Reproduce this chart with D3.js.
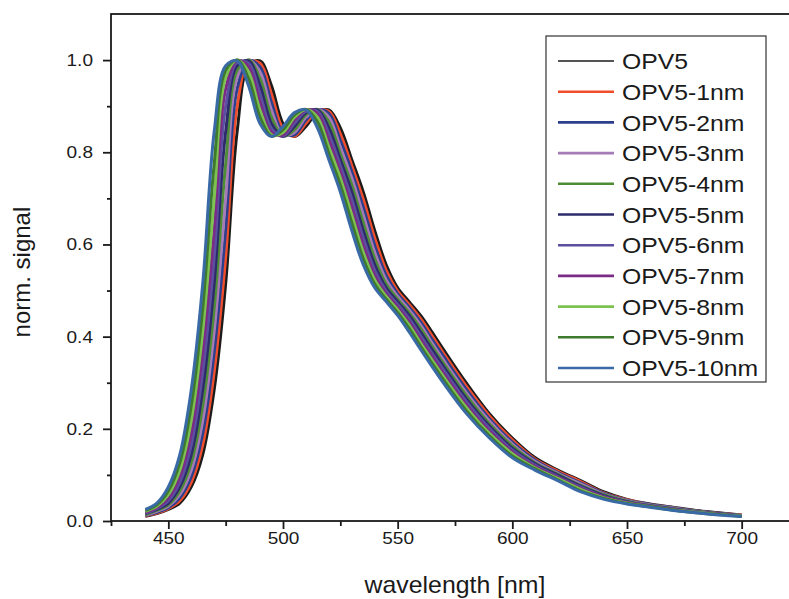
<!DOCTYPE html>
<html>

<head>
  <meta charset="utf-8" />
  <title>OPV5 spectra</title>
  <script src="https://d3js.org/d3.v7.min.js"></script>
  <style>
    body { margin: 0; background: #fff; }
    text { font-family: "Liberation Sans", Arial, sans-serif; fill: #1a1a1a; }
  </style>
</head>

<body>
  <script>
    // wavelength grid [nm] shared by all spectra
    const wavelengths = [440, 445, 450, 455, 460, 465, 470, 475, 480, 485,
      490, 495, 500, 505, 510, 515, 520, 525, 530, 535,
      540, 545, 550, 555, 560, 565, 570,
      580, 590, 600, 610, 620, 630, 640, 650, 660, 670, 680, 690, 700];

    // normalised signal
    const opv5 = [0.010, 0.016, 0.025, 0.039, 0.074, 0.144, 0.285, 0.515, 0.845, 0.988,
      0.998, 0.944, 0.862, 0.834, 0.856, 0.886, 0.892, 0.853, 0.784, 0.714,
      0.630, 0.556, 0.506, 0.476, 0.446, 0.410, 0.372,
      0.299, 0.233, 0.180, 0.137, 0.110, 0.087, 0.063, 0.047, 0.037, 0.030, 0.023, 0.018, 0.013];
    const opv5_1nm = [0.011, 0.017, 0.027, 0.044, 0.084, 0.165, 0.324, 0.572, 0.900, 0.995,
      0.993, 0.926, 0.851, 0.835, 0.863, 0.889, 0.889, 0.840, 0.771, 0.698,
      0.614, 0.544, 0.499, 0.470, 0.439, 0.402, 0.364,
      0.292, 0.228, 0.176, 0.134, 0.108, 0.085, 0.061, 0.046, 0.036, 0.029, 0.022, 0.017, 0.013];
    const opv5_2nm = [0.012, 0.019, 0.029, 0.050, 0.096, 0.190, 0.366, 0.632, 0.938, 0.999,
      0.985, 0.908, 0.843, 0.838, 0.870, 0.892, 0.884, 0.826, 0.758, 0.681,
      0.598, 0.533, 0.493, 0.464, 0.432, 0.394, 0.357,
      0.285, 0.222, 0.171, 0.132, 0.105, 0.082, 0.060, 0.045, 0.036, 0.029, 0.022, 0.017, 0.012];
    const opv5_3nm = [0.013, 0.021, 0.032, 0.057, 0.110, 0.218, 0.412, 0.700, 0.962, 1.000,
      0.974, 0.891, 0.838, 0.843, 0.876, 0.893, 0.876, 0.811, 0.744, 0.664,
      0.583, 0.523, 0.487, 0.458, 0.425, 0.386, 0.349,
      0.278, 0.217, 0.167, 0.129, 0.103, 0.080, 0.058, 0.044, 0.035, 0.028, 0.021, 0.016, 0.012];
    const opv5_4nm = [0.014, 0.023, 0.035, 0.065, 0.126, 0.250, 0.462, 0.775, 0.978, 1.000,
      0.960, 0.876, 0.835, 0.849, 0.881, 0.893, 0.866, 0.797, 0.729, 0.647,
      0.569, 0.514, 0.481, 0.452, 0.418, 0.379, 0.342,
      0.272, 0.211, 0.163, 0.126, 0.101, 0.077, 0.057, 0.043, 0.034, 0.027, 0.021, 0.016, 0.012];
    const opv5_5nm = [0.016, 0.025, 0.039, 0.074, 0.144, 0.285, 0.515, 0.845, 0.988, 0.998,
      0.944, 0.862, 0.834, 0.856, 0.886, 0.892, 0.853, 0.784, 0.714, 0.630,
      0.556, 0.506, 0.476, 0.446, 0.410, 0.372, 0.335,
      0.265, 0.206, 0.158, 0.124, 0.099, 0.075, 0.055, 0.042, 0.033, 0.026, 0.020, 0.015, 0.011];
    const opv5_6nm = [0.017, 0.027, 0.044, 0.084, 0.165, 0.324, 0.572, 0.900, 0.995, 0.993,
      0.926, 0.851, 0.835, 0.863, 0.889, 0.889, 0.840, 0.771, 0.698, 0.614,
      0.544, 0.499, 0.470, 0.439, 0.402, 0.364, 0.328,
      0.259, 0.201, 0.154, 0.121, 0.096, 0.073, 0.053, 0.041, 0.033, 0.026, 0.020, 0.015, 0.011];
    const opv5_7nm = [0.019, 0.029, 0.050, 0.096, 0.190, 0.366, 0.632, 0.938, 0.999, 0.985,
      0.908, 0.843, 0.838, 0.870, 0.892, 0.884, 0.826, 0.758, 0.681, 0.598,
      0.533, 0.493, 0.464, 0.432, 0.394, 0.357, 0.320,
      0.252, 0.195, 0.150, 0.118, 0.094, 0.070, 0.052, 0.040, 0.032, 0.025, 0.019, 0.015, 0.011];
    const opv5_8nm = [0.021, 0.032, 0.057, 0.110, 0.218, 0.412, 0.700, 0.962, 1.000, 0.974,
      0.891, 0.838, 0.843, 0.876, 0.893, 0.876, 0.811, 0.744, 0.664, 0.583,
      0.523, 0.487, 0.458, 0.425, 0.386, 0.349, 0.313,
      0.246, 0.190, 0.146, 0.115, 0.092, 0.068, 0.050, 0.039, 0.031, 0.024, 0.019, 0.014, 0.011];
    const opv5_9nm = [0.023, 0.035, 0.065, 0.126, 0.250, 0.462, 0.775, 0.978, 1.000, 0.960,
      0.876, 0.835, 0.849, 0.881, 0.893, 0.866, 0.797, 0.729, 0.647, 0.569,
      0.514, 0.481, 0.452, 0.418, 0.379, 0.342, 0.306,
      0.239, 0.185, 0.141, 0.113, 0.089, 0.065, 0.049, 0.038, 0.031, 0.024, 0.018, 0.014, 0.010];
    const opv5_10nm = [0.025, 0.039, 0.074, 0.144, 0.285, 0.515, 0.845, 0.988, 0.998, 0.944,
      0.862, 0.834, 0.856, 0.886, 0.892, 0.853, 0.784, 0.714, 0.630, 0.556,
      0.506, 0.476, 0.446, 0.410, 0.372, 0.335, 0.299,
      0.233, 0.180, 0.137, 0.110, 0.087, 0.063, 0.047, 0.037, 0.030, 0.023, 0.018, 0.013, 0.010];

    const seriesNames = ["OPV5", "OPV5-1nm", "OPV5-2nm", "OPV5-3nm", "OPV5-4nm", "OPV5-5nm",
      "OPV5-6nm", "OPV5-7nm", "OPV5-8nm", "OPV5-9nm", "OPV5-10nm"];
    const seriesValues = [opv5, opv5_1nm, opv5_2nm, opv5_3nm, opv5_4nm, opv5_5nm,
      opv5_6nm, opv5_7nm, opv5_8nm, opv5_9nm, opv5_10nm];

    const xTicks = [450, 500, 550, 600, 650, 700];
    const xMinorTicks = [425, 475, 525, 575, 625, 675];
    const yTicks = [0.0, 0.2, 0.4, 0.6, 0.8, 1.0];
    const yMinorTicks = [0.1, 0.3, 0.5, 0.7, 0.9];

    const colors = ["#1b1b1b", "#f04d2d", "#2b3f8c", "#a77bb8", "#4e8b37", "#2d2b6b",
      "#5b4fa0", "#7a2c86", "#7cc250", "#3d7a2c", "#3a6aa6"];

    let width = 789;
    let height = 599;
    let stretch = 1.12; // the source text is a bit wider than Arial

    let svg = d3.select("body")
      .append("svg")
      .attr("width", width)
      .attr("height", height);

    let scaleX = d3.scaleLinear()
      .domain([425, 725])
      .range([111, 799]);
    let scaleY = d3.scaleLinear()
      .domain([0, 1.1])
      .range([521, 14]);

    // spectra, black first so the blue one ends on top
    let lineF = d3.line()
      .x(d => scaleX(d.x))
      .y(d => scaleY(d.y))
      .curve(d3.curveCatmullRom.alpha(0.5));

    seriesValues.forEach(function (vals, i) {
      let pts = wavelengths.map((w, j) => ({ x: w, y: vals[j] }));
      svg.append("path")
        .datum(pts)
        .attr("d", lineF)
        .attr("fill", "none")
        .attr("stroke", colors[i])
        .attr("stroke-width", 3)
        .attr("stroke-linejoin", "round");
    });

    // frame (right side falls off the picture)
    svg.append("rect")
      .attr("x", scaleX(425))
      .attr("y", scaleY(1.1))
      .attr("width", scaleX(725) - scaleX(425))
      .attr("height", scaleY(0) - scaleY(1.1))
      .attr("fill", "none")
      .attr("stroke", "#1a1a1a")
      .attr("stroke-width", 1.8);

    // x axis
    let gx = svg.append("g")
      .attr("transform", `translate(0, ${scaleY(0)})`)
      .call(d3.axisBottom(scaleX).tickValues(xTicks).tickSize(8).tickPadding(3).tickFormat(d3.format("d")));
    let gxm = svg.append("g")
      .attr("transform", `translate(0, ${scaleY(0)})`)
      .call(d3.axisBottom(scaleX).tickValues(xMinorTicks).tickSize(5).tickFormat(""));

    // y axis
    let gy = svg.append("g")
      .attr("transform", `translate(${scaleX(425)}, 0)`)
      .call(d3.axisLeft(scaleY).tickValues(yTicks).tickSize(8).tickFormat(d3.format(".1f")));
    let gym = svg.append("g")
      .attr("transform", `translate(${scaleX(425)}, 0)`)
      .call(d3.axisLeft(scaleY).tickValues(yMinorTicks).tickSize(4).tickFormat(""));

    [gx, gxm, gy, gym].forEach(function (g) {
      g.select(".domain").remove();
      g.selectAll("line").attr("stroke", "#1a1a1a").attr("stroke-width", 1.8);
    });
    gx.selectAll("text")
      .style("font-size", "17px")
      .attr("transform", `scale(${stretch},1)`);
    gy.selectAll("text")
      .style("font-size", "17px")
      .attr("x", -18 / stretch)
      .attr("transform", `scale(${stretch},1)`);

    // axis titles
    svg.append("g")
      .attr("transform", `translate(${(scaleX(425) + scaleX(725)) / 2}, 593)`)
      .append("text")
      .attr("text-anchor", "middle")
      .attr("transform", `scale(1.08,1)`)
      .style("font-size", "23px")
      .text("wavelength [nm]");
    svg.append("g")
      .attr("transform", `translate(30, ${scaleY(0.54)}) rotate(-90)`)
      .append("text")
      .attr("text-anchor", "middle")
      .style("font-size", "24px")
      .text("norm. signal");

    // legend
    let legendRow = d3.scaleLinear().domain([0, 10]).range([61, 368]);
    svg.append("rect")
      .attr("x", 546)
      .attr("y", 36)
      .attr("width", 220)
      .attr("height", 346)
      .attr("fill", "white")
      .attr("stroke", "#333")
      .attr("stroke-width", 1.2);

    seriesNames.forEach(function (name, i) {
      let yRow = legendRow(i);
      svg.append("line")
        .attr("x1", 558)
        .attr("x2", 614)
        .attr("y1", yRow)
        .attr("y2", yRow)
        .attr("stroke", colors[i])
        .attr("stroke-width", i === 0 ? 1.6 : 2.6);
      svg.append("g")
        .attr("transform", `translate(622, ${yRow})`)
        .append("text")
        .attr("dy", "0.36em")
        .attr("transform", `scale(1.1,1)`)
        .style("font-size", "22.5px")
        .text(name);
    });
  </script>
</body>

</html>
